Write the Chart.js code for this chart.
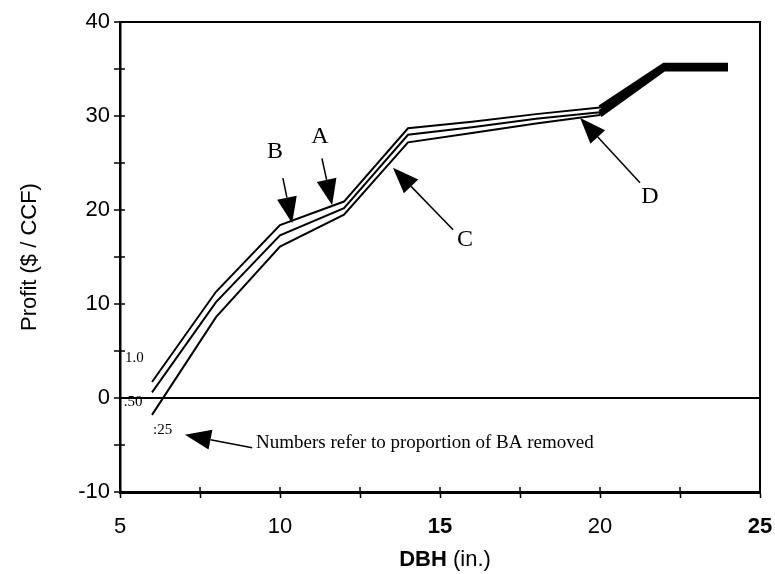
<!DOCTYPE html>
<html>
<head>
<meta charset="utf-8">
<script src="https://cdn.jsdelivr.net/npm/chart.js@4/dist/chart.umd.min.js"></script>
<style>
  html, body { margin: 0; padding: 0; background: #fff; }
  #wrap { width: 775px; height: 574px; }
</style>
</head>
<body>
<div id="wrap"><canvas id="c" width="775" height="574"></canvas></div>
<script>
// DBH (in.) points
const dbh = [6, 8, 10, 12, 14, 16, 18, 20, 22, 24];
// profit ($/CCF) by proportion of BA removed
const profit10 = [1.7, 11.3, 18.4, 20.9, 28.7, 29.4, 30.2, 30.9, 35.4, 35.4];
const profit50 = [0.6, 10.2, 17.3, 20.2, 28.0, 28.8, 29.7, 30.4, 35.2, 35.2];
const profit25 = [-1.8, 8.6, 16.1, 19.5, 27.2, 28.2, 29.2, 30.1, 35.0, 35.0];

const xTicks = [5, 10, 15, 20, 25];
const yTicks = [-10, 0, 10, 20, 30, 40];

// text notes, placed in data units
const notes = [
  { text: '1.0', x: 5.16, y: 4.3, size: 15, align: 'left' },
  { text: '.50', x: 5.12, y: -0.4, size: 15, align: 'left' },
  { text: ':25', x: 6.03, y: -3.4, size: 15, align: 'left' },
  { text: 'Numbers refer to proportion of BA removed', x: 9.25, y: -4.8, size: 19, align: 'left' },
  { text: 'B', x: 9.84, y: 26.2, size: 24, align: 'center' },
  { text: 'A', x: 11.25, y: 27.8, size: 24, align: 'center' },
  { text: 'C', x: 15.78, y: 16.8, size: 24, align: 'center' },
  { text: 'D', x: 21.56, y: 21.4, size: 24, align: 'center' }
];
// arrows: [tailX, tailY, tipX, tipY]
const arrows = [
  [9.13, -5.3, 7.03, -3.9],
  [10.09, 23.4, 10.38, 18.6],
  [11.31, 25.5, 11.63, 20.5],
  [15.41, 17.9, 13.53, 24.5],
  [21.25, 22.9, 19.38, 29.8]
];

const sans = '"Liberation Sans", Arial, sans-serif';
const serif = '"Liberation Serif", "Times New Roman", serif';

function toPts(ys) {
  return dbh.map((x, i) => ({ x: x, y: ys[i] }));
}

function lineSet(label, ys) {
  return {
    label: label,
    data: toPts(ys),
    borderColor: '#000',
    borderWidth: 2,
    pointRadius: 0,
    tension: 0,
    segment: {
      borderWidth: ctx => ctx.p0.parsed.x >= 20 ? 5 : 2
    }
  };
}

const extras = {
  id: 'extras',
  afterDraw(chart) {
    const { ctx, chartArea: a, scales } = chart;
    const xs = scales.x, ys = scales.y;
    ctx.save();
    ctx.strokeStyle = '#000';
    // top and right border
    ctx.lineWidth = 2;
    ctx.beginPath();
    ctx.moveTo(a.left, a.top);
    ctx.lineTo(a.right, a.top);
    ctx.lineTo(a.right, a.bottom);
    ctx.stroke();
    // inward ticks
    ctx.lineWidth = 1.5;
    ctx.beginPath();
    for (let v = -10; v <= 40; v += 5) {
      const py = ys.getPixelForValue(v);
      ctx.moveTo(a.left, py);
      ctx.lineTo(a.left + 5, py);
    }
    for (let v = 5; v <= 25; v += 2.5) {
      const px = xs.getPixelForValue(v);
      ctx.moveTo(px, a.bottom);
      ctx.lineTo(px, a.bottom - 5);
    }
    ctx.stroke();

    // notes
    ctx.fillStyle = '#000';
    ctx.textBaseline = 'middle';
    notes.forEach(n => {
      ctx.font = n.size + 'px ' + serif;
      ctx.textAlign = n.align;
      ctx.fillText(n.text, xs.getPixelForValue(n.x), ys.getPixelForValue(n.y));
    });

    // arrows
    arrows.forEach(ar => {
      const x0 = xs.getPixelForValue(ar[0]), y0 = ys.getPixelForValue(ar[1]);
      const x1 = xs.getPixelForValue(ar[2]), y1 = ys.getPixelForValue(ar[3]);
      const ang = Math.atan2(y1 - y0, x1 - x0);
      const hl = 26, hw = 10;
      const bx = x1 - hl * Math.cos(ang), by = y1 - hl * Math.sin(ang);
      ctx.lineWidth = 1.5;
      ctx.beginPath();
      ctx.moveTo(x0, y0);
      ctx.lineTo(bx, by);
      ctx.stroke();
      ctx.beginPath();
      ctx.moveTo(x1, y1);
      ctx.lineTo(bx + hw * Math.sin(ang), by - hw * Math.cos(ang));
      ctx.lineTo(bx - hw * Math.sin(ang), by + hw * Math.cos(ang));
      ctx.closePath();
      ctx.fill();
    });

    // x axis title, DBH bold + (in.)
    ctx.textAlign = 'left';
    ctx.textBaseline = 'middle';
    ctx.font = 'bold 22px ' + sans;
    const t1 = 'DBH';
    const w1 = ctx.measureText(t1).width;
    ctx.font = '22px ' + sans;
    const t2 = ' (in.)';
    const w2 = ctx.measureText(t2).width;
    const cx = (a.left + a.right) / 2 + 5;
    let sx = cx - (w1 + w2) / 2;
    ctx.font = 'bold 22px ' + sans;
    ctx.fillText(t1, sx, 560);
    ctx.font = '22px ' + sans;
    ctx.fillText(t2, sx + w1, 560);
    ctx.restore();
  }
};

new Chart(document.getElementById('c'), {
  type: 'line',
  data: {
    datasets: [
      lineSet('1.0', profit10),
      lineSet('.50', profit50),
      lineSet('.25', profit25)
    ]
  },
  options: {
    responsive: false,
    animation: false,
    layout: { padding: { top: 22, right: 15, left: 0, bottom: 0 } },
    plugins: {
      legend: { display: false },
      tooltip: { enabled: false }
    },
    scales: {
      x: {
        type: 'linear',
        min: 5,
        max: 25,
        afterFit: s => { s.height = 82; s.paddingRight = 0; s.paddingLeft = 0; },
        afterBuildTicks: s => {
          s.ticks = [];
          for (let v = 5; v <= 25; v += 2.5) s.ticks.push({ value: v });
        },
        ticks: {
          color: '#000',
          padding: 16,
          maxRotation: 0,
          autoSkip: false,
          font: ctx => ({
            family: sans,
            size: 22,
            weight: ctx.tick && (ctx.tick.value === 15 || ctx.tick.value === 25) ? 'bold' : 'normal'
          }),
          callback: v => xTicks.includes(v) ? String(v) : ''
        },
        grid: {
          drawOnChartArea: false,
          tickLength: 6,
          tickColor: '#000',
          tickWidth: 1.5
        },
        border: { display: true, color: '#000', width: 3 }
      },
      y: {
        type: 'linear',
        min: -10,
        max: 40,
        afterFit: s => { s.width = 120; },
        afterBuildTicks: s => {
          s.ticks = [];
          for (let v = -10; v <= 40; v += 5) s.ticks.push({ value: v });
        },
        ticks: {
          color: '#000',
          padding: 4,
          autoSkip: false,
          font: { family: sans, size: 22 },
          callback: v => yTicks.includes(v) ? String(v) : ''
        },
        grid: {
          drawOnChartArea: true,
          color: ctx => ctx.tick && ctx.tick.value === 0 ? '#000' : 'rgba(0,0,0,0)',
          lineWidth: ctx => ctx.tick && ctx.tick.value === 0 ? 2 : 0,
          tickLength: 6,
          tickColor: '#000',
          tickWidth: 1.5
        },
        border: { display: true, color: '#000', width: 2.5 },
        title: {
          display: true,
          text: 'Profit ($ / CCF)',
          color: '#000',
          font: { family: sans, size: 22 },
          padding: { top: 17, bottom: 0 }
        }
      }
    }
  },
  plugins: [extras]
});
</script>
</body>
</html>
